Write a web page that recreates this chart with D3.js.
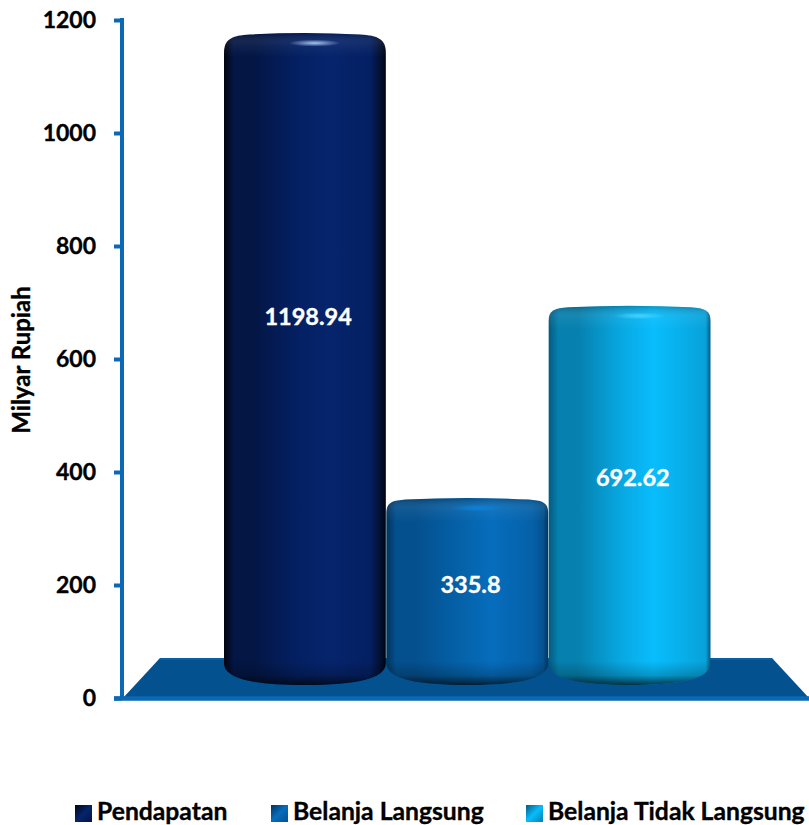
<!DOCTYPE html>
<html><head><meta charset="utf-8">
<script src="https://cdn.jsdelivr.net/npm/d3@7"></script>
<style>html,body{margin:0;background:#fff}svg{display:block}text{font-family:Lato,"Open Sans",sans-serif;font-weight:700;stroke:currentColor;stroke-width:.35px}</style>
</head><body><div id="c"></div>
<script>
const categories=["Pendapatan","Belanja Langsung","Belanja Tidak Langsung"];
const values=[1198.94,335.8,692.62];
const valueLabels=["1198.94","335.8","692.62"];
const labelAt=[675,200,390];
const yTicks=[0,200,400,600,800,1000,1200];
const yTitle="Milyar Rupiah";
const palettes=[
 {edge:"#01040f",dark:"#031644",mid:"#042063",light:"#06246c",right:"#020e2e",cap:"#04205f",hi:"#a8c4f0",r:20},
 {edge:"#02335c",dark:"#04508e",mid:"#0561a8",light:"#066dbd",right:"#04528f",cap:"#0561a8",hi:"#0a82dc",r:15},
 {edge:"#045a80",dark:"#0680ae",mid:"#08a8e2",light:"#08bdfd",right:"#07a2da",cap:"#07a4dc",hi:"#45d4ff",r:15}];
const W=809,H=825;
const svg=d3.select("#c").append("svg").attr("width",W).attr("height",H);
const defs=svg.append("defs");
const y=d3.scaleLinear().domain([0,1200]).range([698,20]);
const yBar=d3.scaleLinear().domain([0,1200]).range([679,32.5]);
const x=d3.scaleBand().domain(categories).range([224,711]);
const axisX=122, baseBelow=6;

palettes.forEach((p,i)=>{
 const g=defs.append("linearGradient").attr("id","g"+i);
 [[0,p.edge],[.06,p.dark],[.18,p.dark],[.45,p.mid],[.65,p.light],[.9,p.mid],[.97,p.right],[1,p.edge]].forEach(([o,c])=>g.append("stop").attr("offset",o).attr("stop-color",c));
 const l=defs.append("linearGradient").attr("id","leg"+i).attr("x1",0).attr("y1",0).attr("x2",1).attr("y2",1);
 [[0,p.edge],[.5,p.light],[1,p.dark]].forEach(([o,c])=>l.append("stop").attr("offset",o).attr("stop-color",c));
 const h=defs.append("radialGradient").attr("id","hi"+i);
 h.append("stop").attr("offset",0).attr("stop-color",p.hi).attr("stop-opacity",1);
 h.append("stop").attr("offset",1).attr("stop-color",p.hi).attr("stop-opacity",0);
});
const capShade=defs.append("linearGradient").attr("id","capShade").attr("x1",0).attr("y1",0).attr("x2",0).attr("y2",1);
capShade.append("stop").attr("offset",0).attr("stop-color","#000").attr("stop-opacity",.22);
capShade.append("stop").attr("offset",.5).attr("stop-color","#fff").attr("stop-opacity",.05);
capShade.append("stop").attr("offset",1).attr("stop-color","#fff").attr("stop-opacity",0);
const botShade=defs.append("linearGradient").attr("id","botShade").attr("x1",0).attr("y1",0).attr("x2",0).attr("y2",1);
botShade.append("stop").attr("offset",0).attr("stop-color","#000").attr("stop-opacity",0);
botShade.append("stop").attr("offset",.6).attr("stop-color","#000").attr("stop-opacity",.2);
botShade.append("stop").attr("offset",1).attr("stop-color","#000").attr("stop-opacity",.7);

// floor
const floorL=axisX+1, floorR=W, inset=37, backY=y(0)-40;
svg.append("path")
 .attr("d",`M${floorL},${y(0)}L${floorL+inset},${backY}H${floorR-inset}L${floorR},${y(0)}Z`)
 .attr("fill","#03528f");
svg.append("path").attr("d",`M${floorL+inset},${backY+1}H${floorR-inset}`).attr("stroke","#0660a6").attr("stroke-width",2);

// bars
function cyl(x0,w,top,bot,r){
 const f=r*1.3;
 return `M${x0},${top+r}C${x0},${top+r*.3} ${x0+f*.3},${top+2.5} ${x0+f},${top+1.5}`+
  `Q${x0+w*.5},${top-1.5} ${x0+w-f},${top+1.5}`+
  `C${x0+w-f*.3},${top+2.5} ${x0+w},${top+r*.3} ${x0+w},${top+r}`+
  `V${bot-22}C${x0+w},${bot-6} ${x0+w-30},${bot} ${x0+w*.5},${bot}`+
  `C${x0+30},${bot} ${x0},${bot-6} ${x0},${bot-22}Z`;
}
const bars=svg.append("g").selectAll("g").data(categories).join("g");
bars.each(function(c,i){
 const g=d3.select(this),x0=x(c),w=x.bandwidth()-.5,top=yBar(values[i]),bot=yBar(0)+baseBelow,r=palettes[i].r;
 const id="clip"+i;
 defs.append("clipPath").attr("id",id).append("path").attr("d",cyl(x0,w,top,bot,r));
 g.append("path").attr("d",cyl(x0,w,top,bot,r)).attr("fill",`url(#g${i})`);
 const cl=g.append("g").attr("clip-path",`url(#${id})`);
 cl.append("rect").attr("x",x0).attr("y",top).attr("width",w).attr("height",24).attr("fill",`url(#capShade)`);
 cl.append("rect").attr("x",x0).attr("y",bot-24).attr("width",w).attr("height",24).attr("fill",`url(#botShade)`);
 g.append("ellipse").attr("cx",x0+w*.56).attr("cy",top+10).attr("rx",w*.16).attr("ry",3.5).attr("fill",`url(#hi${i})`);
 g.append("text").attr("x",x0+w*.52).attr("y",y(labelAt[i]))
  .attr("dy",".35em").attr("text-anchor","middle").attr("fill","#fff").style("color","#fff").attr("font-size",23.5).text(valueLabels[i]);
});

// axes
const axisColor="#0a68b4";
const ax=svg.append("g").attr("transform",`translate(${axisX},0)`)
 .call(d3.axisLeft(y).tickValues(yTicks).tickSize(8).tickPadding(18).tickFormat(d3.format("d")));
ax.selectAll("line").attr("stroke",axisColor).attr("stroke-width",4);
ax.select(".domain").attr("stroke",axisColor).attr("stroke-width",4).attr("d",`M0,${y(1200)-2}V${y(0)}`);
ax.selectAll("text").attr("font-size",23).attr("fill","#000").style("color","#000");
svg.append("line").attr("x1",axisX-8).attr("x2",W).attr("y1",y(0)+.5).attr("y2",y(0)+.5).attr("stroke",axisColor).attr("stroke-width",4.5);

svg.append("text").attr("transform",`translate(30,${y(600)+1}) rotate(-90)`).attr("text-anchor","middle")
 .attr("font-size",24).attr("fill","#000").style("color","#000").text(yTitle);

// legend
const legX=[75,271,526];
const leg=svg.append("g").selectAll("g").data(categories).join("g").attr("transform",(d,i)=>`translate(${legX[i]},805)`);
leg.append("rect").attr("width",17).attr("height",17).attr("fill",(d,i)=>`url(#leg${i})`);
leg.append("text").attr("x",22).attr("y",15).attr("font-size",24.7).attr("fill","#000").style("color","#000").text(d=>d);
</script></body></html>
